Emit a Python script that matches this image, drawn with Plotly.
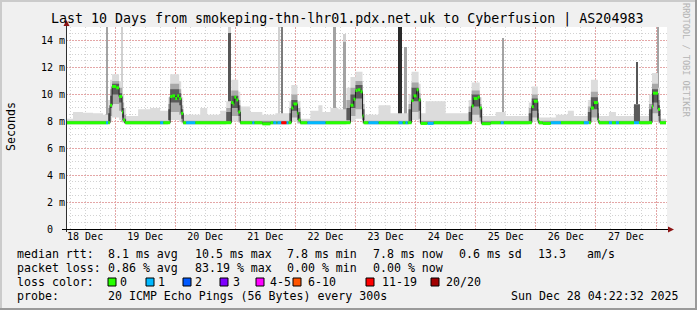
import numpy as np
import pandas as pd
import plotly.graph_objects as go

# ---------------- data ----------------
START = pd.Timestamp("2025-12-18 04:22:32")
END = pd.Timestamp("2025-12-28 04:22:32")
DATA_END_H = 239.6          # hours after START where data stops

# median rtt, step series: hours after START -> ms
MED_H = [0.0,
         17.6, 18.4, 20.0, 21.2, 22.4, 22.8, 23.6,
         41.6, 42.4, 43.6, 44.4, 45.2, 46.0, 46.8,
         66.0, 66.8, 67.2, 68.0, 68.8, 69.6, 78.4, 81.6,
         90.0, 90.8, 92.4, 92.8, 93.6,
         113.6, 114.8, 115.6, 116.4, 117.6, 118.4, 118.8,
         138.0, 138.8, 140.0, 140.8, 141.6, 146.8,
         162.0, 162.8, 164.4, 165.2, 166.0, 169.6,
         186.0, 186.8, 188.4, 188.8, 190.4, 193.6,
         209.6, 210.8, 212.4, 212.8,
         234.0, 234.4, 236.4, 237.2]
MED_MS = [7.9,
          9.2, 10.6, 10.5, 9.85, 8.7, 8.1, 7.9,
          9.85, 9.9, 9.7, 9.9, 9.7, 8.6, 7.9,
          9.4, 9.3, 9.8, 9.6, 8.7, 7.9, 7.82, 7.9,
          9.0, 9.3, 8.6, 8.1, 7.9,
          9.2, 9.65, 10.3, 10.35, 10.2, 8.4, 7.9,
          9.55, 9.9, 10.35, 9.6, 7.85, 7.9,
          9.15, 9.7, 9.8, 9.0, 7.83, 7.9,
          9.1, 9.5, 8.1, 7.9, 7.85, 7.9,
          9.0, 9.4, 8.1, 7.9,
          9.1, 10.1, 8.9, 7.9]

# packet loss (pings lost out of 20), step series
LOSS_H = [0.0, 16.0, 16.8, 37.6, 38.8, 48.0, 51.6, 74.4, 75.2, 82.8, 84.0, 84.4,
          86.0, 88.0, 88.8, 96.4, 103.6, 120.8, 124.8, 132.8, 134.4, 135.6, 136.4,
          144.4, 146.8, 173.6, 174.8, 193.6, 197.6, 206.8, 208.8, 216.8, 218.0,
          219.6, 220.8, 226.8, 228.8]
LOSS_N = [0, 1, 0, 1, 0, 1, 0, 1, 0, 1, 0, 1,
          12, 1, 0, 1, 0, 1, 0, 1, 0, 1, 0,
          1, 0, 1, 0, 1, 0, 1, 0, 1, 0,
          1, 0, 1, 0]

# smoke (ping spread), step series
SMOKE_H = [0.0, 2.8, 6.8, 10.8, 14.8,
           16.8, 17.6, 18.4, 21.2, 22.4, 23.2,
           24.0, 28.8, 33.6, 37.6,
           40.8, 41.6, 45.2, 46.0,
           46.8, 53.6, 56.4, 61.6,
           64.0, 66.0, 68.8,
           69.6, 73.6, 78.4, 83.6,
           89.2, 90.0, 92.4,
           93.6, 97.6, 100.8, 102.4, 105.6, 108.8,
           112.0, 113.6, 115.6, 118.4,
           119.2, 124.8, 129.6,
           136.8, 138.0, 140.8,
           141.6, 143.6, 151.6,
           160.8, 162.0, 165.2,
           166.0, 171.6, 175.6,
           184.8, 186.0, 188.4,
           188.8, 195.6, 200.4, 202.8,
           208.4, 209.6, 212.4,
           212.8, 216.8, 219.6,
           226.8, 229.2,
           232.8, 234.0, 236.4,
           237.2]
SMOKE_MAX = [8.2, 8.7, 8.65, 8.6, 8.5,
             9.6, 11.1, 11.5, 11.0, 10.0, 9.0,
             8.4, 8.9, 9.0, 8.8,
             9.8, 11.5, 11.0, 9.8,
             8.5, 9.0, 8.5, 8.8,
             9.5, 11.1, 10.2,
             9.1, 8.7, 8.5, 8.6,
             9.5, 10.7, 9.5,
             8.2, 8.8, 9.2, 8.7, 9.0, 8.9,
             10.5, 11.3, 11.7, 10.0,
             8.5, 9.2, 8.6,
             10.0, 11.7, 10.8,
             8.6, 9.5, 8.6,
             9.6, 10.9, 9.8,
             8.4, 8.7, 8.4,
             9.4, 10.6, 9.4,
             8.3, 8.5, 8.8, 8.4,
             9.6, 11.1, 9.5,
             8.4, 8.7, 8.4,
             9.3, 8.4,
             10.0, 11.6, 10.5,
             8.2]
SMOKE_Q3 = [8.05, 8.05, 8.05, 8.05, 8.05,
            9.0, 10.4, 11.0, 10.5, 9.4, 8.5,
            8.05, 8.05, 8.05, 8.05,
            9.3, 10.8, 10.4, 9.2,
            8.05, 8.05, 8.05, 8.05,
            9.0, 10.3, 9.6,
            8.05, 8.05, 8.05, 8.05,
            9.0, 10.0, 9.0,
            8.05, 8.05, 8.05, 8.05, 8.05, 8.05,
            9.6, 10.5, 11.0, 9.3,
            8.05, 8.05, 8.05,
            9.3, 10.9, 10.1,
            8.05, 8.05, 8.05,
            9.1, 10.3, 9.3,
            8.05, 8.05, 8.05,
            9.0, 10.0, 8.9,
            8.05, 8.05, 8.05, 8.05,
            9.1, 10.2, 9.0,
            8.05, 8.05, 8.05,
            9.3, 8.05,
            9.3, 10.8, 9.6,
            8.05]
SMOKE_CHI = [7.98, 7.98, 7.98, 7.98, 7.98,
             8.6, 9.9, 10.8, 10.1, 9.0, 8.2,
             7.98, 7.98, 7.98, 7.98,
             8.9, 10.4, 10.1, 8.9,
             7.98, 7.98, 7.98, 7.98,
             8.7, 9.9, 9.2,
             7.98, 7.98, 7.98, 7.98,
             8.6, 9.6, 8.7,
             7.98, 7.98, 7.98, 7.98, 7.98, 7.98,
             9.0, 10.0, 10.7, 8.9,
             7.98, 7.98, 7.98,
             8.9, 10.5, 9.7,
             7.98, 7.98, 7.98,
             8.7, 10.0, 9.0,
             7.98, 7.98, 7.98,
             8.6, 9.7, 8.6,
             7.98, 7.98, 7.98, 7.98,
             8.7, 9.8, 8.6,
             7.98, 7.98, 7.98,
             9.25, 7.98,
             8.9, 10.4, 9.2,
             7.98]
SMOKE_CLO = [7.85, 7.85, 7.85, 7.85, 7.85,
             8.0, 9.0, 10.0, 9.4, 8.3, 7.9,
             7.85, 7.85, 7.85, 7.85,
             8.1, 9.4, 9.2, 8.2,
             7.85, 7.85, 7.85, 7.85,
             8.0, 9.0, 8.4,
             7.85, 7.85, 7.85, 7.85,
             8.0, 8.8, 8.1,
             7.85, 7.85, 7.85, 7.85, 7.85, 7.85,
             8.1, 9.0, 9.7, 8.1,
             7.85, 7.85, 7.85,
             8.0, 9.5, 8.8,
             7.85, 7.85, 7.85,
             8.0, 9.1, 8.3,
             7.85, 7.85, 7.85,
             8.0, 8.8, 8.0,
             7.85, 7.85, 7.85, 7.85,
             8.0, 8.9, 8.0,
             7.85, 7.85, 7.85,
             7.9, 7.85,
             8.0, 9.4, 8.4,
             7.85]
SMOKE_Q1 = [7.8, 7.8, 7.8, 7.8, 7.8,
            7.9, 8.4, 9.3, 8.8, 8.0, 7.85,
            7.8, 7.8, 7.8, 7.8,
            7.95, 8.7, 8.5, 7.95,
            7.8, 7.8, 7.8, 7.8,
            7.9, 8.4, 8.0,
            7.8, 7.8, 7.8, 7.8,
            7.9, 8.3, 7.9,
            7.8, 7.8, 7.8, 7.8, 7.8, 7.8,
            7.95, 8.4, 8.9, 7.9,
            7.8, 7.8, 7.8,
            7.9, 8.7, 8.2,
            7.8, 7.8, 7.8,
            7.9, 8.5, 8.0,
            7.8, 7.8, 7.8,
            7.9, 8.3, 7.9,
            7.8, 7.8, 7.8, 7.8,
            7.9, 8.3, 7.9,
            7.8, 7.8, 7.8,
            7.85, 7.8,
            7.9, 8.6, 8.0,
            7.8]
SMOKE_MIN = [7.75, 7.75, 7.75, 7.75, 7.75,
             7.8, 8.0, 8.3, 8.1, 7.9, 7.8,
             7.75, 7.75, 7.75, 7.75,
             7.85, 8.1, 8.0, 7.85,
             7.75, 7.75, 7.75, 7.75,
             7.8, 8.0, 7.9,
             7.75, 7.75, 7.75, 7.75,
             7.8, 8.0, 7.8,
             7.75, 7.75, 7.75, 7.75, 7.75, 7.75,
             7.85, 8.0, 8.2, 7.8,
             7.75, 7.75, 7.75,
             7.8, 8.1, 7.9,
             7.75, 7.75, 7.75,
             7.8, 8.0, 7.85,
             7.75, 7.75, 7.75,
             7.8, 8.0, 7.8,
             7.75, 7.75, 7.75, 7.75,
             7.8, 8.0, 7.8,
             7.75, 7.75, 7.75,
             7.8, 7.75,
             7.8, 8.0, 7.85,
             7.75]

# isolated slow pings (tall smoke spikes)
SPIKE_H = [16.4, 22.2, 65.4, 65.4, 85.2, 86.2, 107.4, 111.4, 111.4, 133.4, 135.4, 174.4, 228.2, 236.4]
SPIKE_SPAN_H = [0.8, 0.8, 1.2, 1.2, 0.8, 0.8, 1.2, 1.2, 1.2, 1.6, 1.2, 0.8, 0.8, 0.8]
SPIKE_LOW = [8.0, 8.0, 8.0, 8.0, 8.0, 8.0, 8.0, 8.0, 8.0, 8.0, 8.0, 8.0, 8.0, 8.0]
SPIKE_HIGH = [15.1, 15.1, 15.1, 14.6, 15.1, 15.1, 15.1, 14.5, 13.9, 15.1, 13.5, 14.2, 12.4, 15.1]
SPIKE_N = [2, 1, 1, 4, 1, 3, 2, 1, 2, 6, 2, 2, 4, 2]

DAY_LABELS = ["18 Dec", "19 Dec", "20 Dec", "21 Dec", "22 Dec",
              "23 Dec", "24 Dec", "25 Dec", "26 Dec", "27 Dec"]
Y_TICKS = [0, 2, 4, 6, 8, 10, 12, 14]
Y_TICK_TEXT = ["0\u00a0\u00a0", "2 m", "4 m", "6 m", "8 m", "10 m", "12 m", "14 m"]

TITLE = "Last 10 Days from smokeping-thn-lhr01.pdx.net.uk to Cyberfusion | AS204983"
RTT_STATS = ["8.1 ms avg", "10.5 ms max", "7.8 ms min", "7.8 ms now", "0.6 ms sd"]
LOSS_STATS = ["0.86 % avg", "83.19 % max", "0.00 % min", "0.00 % now"]
JITTER_VAL, JITTER_UNIT = "13.3", "am/s"
LOSS_LABELS = ["0", "1", "2", "3", "4-5", "6-10", "11-19", "20/20"]
PROBE = "20 ICMP Echo Pings (56 Bytes) every 300s"
STAMP = "Sun Dec 28 04:22:32 2025"

# ---------------- styling ----------------
MONO = "DejaVu Sans Mono"
LOSS_COLORS = ["#26ff00", "#00b8ff", "#0059ff", "#7e00ff",
               "#ff00ff", "#ff5500", "#ff0000", "#a10000"]
SPIKE_GRAY = {1: "#d0d0d0", 2: "#a3a3a3", 3: "#7c7c7c", 4: "#565656", 6: "#2a2a2a"}
MAJOR = "#e4a6a6"
MINOR = "#d2d2d2"

W, H = 697, 310
L, R, T, B = 66, 30, 27, 81
PW, PH = W - L - R, H - T - B


def PX(x):
    return (x - L) / PW


def PY(y):
    return (H - B - y) / PH


def hdt(h):
    return START + pd.Timedelta(hours=float(h))


def loss_color(n):
    if n <= 3:
        return LOSS_COLORS[n]
    if n <= 5:
        return LOSS_COLORS[4]
    if n <= 10:
        return LOSS_COLORS[5]
    if n <= 19:
        return LOSS_COLORS[6]
    return LOSS_COLORS[7]


def step_val(hs, vs, h):
    i = int(np.searchsorted(np.asarray(hs), h, side="right")) - 1
    return vs[max(i, 0)]


fig = go.Figure()

# smoke bands
sx = [hdt(h) for h in SMOKE_H] + [hdt(DATA_END_H)]


def ext(a):
    return list(a) + [a[-1]]


for lo, hi, col in [(SMOKE_MIN, SMOKE_MAX, "#dcdcdc"),
                    (SMOKE_Q1, SMOKE_Q3, "#a8a8a8"),
                    (SMOKE_CLO, SMOKE_CHI, "#5a5a5a")]:
    fig.add_trace(go.Scatter(x=sx, y=ext(lo), mode="lines",
                             line=dict(width=0, shape="hv"), hoverinfo="skip"))
    fig.add_trace(go.Scatter(x=sx, y=ext(hi), mode="lines",
                             line=dict(width=0, shape="hv"), fill="tonexty",
                             fillcolor=col, hoverinfo="skip"))

# spikes
fig.add_trace(go.Bar(
    x=[hdt(h) for h in SPIKE_H],
    y=[hi - lo for hi, lo in zip(SPIKE_HIGH, SPIKE_LOW)],
    base=SPIKE_LOW,
    width=[s * 3600 * 1000 for s in SPIKE_SPAN_H],
    marker=dict(color=[SPIKE_GRAY[n] for n in SPIKE_N], line=dict(width=0)),
    hoverinfo="skip"))

# median line (dark) with vertical steps -- on the labelled overlay x axis
fig.add_trace(go.Scatter(x=[hdt(h) for h in MED_H] + [hdt(DATA_END_H)],
                         y=list(MED_MS) + [MED_MS[-1]], mode="lines",
                         xaxis="x2", yaxis="y",
                         line=dict(color="#202020", width=1, shape="hv"),
                         hoverinfo="skip"))

# loss-coloured median bands
bps = sorted(set(MED_H) | set(LOSS_H))
ends = bps[1:] + [DATA_END_H]
segs = {}
for a, b in zip(bps, ends):
    m = step_val(MED_H, MED_MS, a)
    c = loss_color(step_val(LOSS_H, LOSS_N, a))
    xs, ys = segs.setdefault(c, ([], []))
    xs += [hdt(a), hdt(b), None]
    ys += [m, m, None]
for c, (xs, ys) in segs.items():
    fig.add_trace(go.Scatter(x=xs, y=ys, mode="lines", xaxis="x2", yaxis="y",
                             line=dict(color=c, width=3), hoverinfo="skip"))

tick_mid = [START.normalize() + pd.Timedelta(days=d) for d in range(1, 11)]
tick_noon = [START.normalize() + pd.Timedelta(days=d, hours=12) for d in range(10)]

fig.update_layout(
    width=W, height=H, margin=dict(l=L, r=R, t=T, b=B, pad=0),
    paper_bgcolor="#f0f0f0", plot_bgcolor="#ffffff", showlegend=False,
    barmode="overlay", bargap=0,
    xaxis=dict(type="date", range=[START, END], tickmode="array",
               tickvals=tick_mid, ticktext=[""] * len(tick_mid),
               showgrid=True, gridcolor=MAJOR, gridwidth=1, griddash="2px,1px",
               minor=dict(dtick=6 * 3600 * 1000, tick0="2025-12-18 00:00:00",
                          showgrid=True, gridcolor=MINOR, gridwidth=1,
                          griddash="1px,2px"),
               zeroline=False, showline=False, ticks=""),
    xaxis2=dict(type="date", overlaying="x", anchor="y", side="bottom",
                range=[START, END], tickmode="array", tickvals=tick_noon,
                ticktext=DAY_LABELS, showgrid=False, zeroline=False,
                showline=False, ticks="",
                tickfont=dict(family=MONO, size=10, color="#000000")),
    yaxis=dict(range=[0, 15.02], tickmode="array", tickvals=Y_TICKS,
               ticktext=Y_TICK_TEXT, showgrid=True, gridcolor=MAJOR,
               gridwidth=1, griddash="2px,1px",
               minor=dict(dtick=0.5, tick0=0, showgrid=True, gridcolor=MINOR,
                          gridwidth=1, griddash="1px,2px"),
               zeroline=False, showline=False, ticks="",
               tickfont=dict(family=MONO, size=10, color="#000000")),
)

shapes = []
# frame
shapes.append(dict(type="line", xref="paper", yref="paper", x0=PX(0), x1=PX(W), y0=PY(1), y1=PY(1),
                   line=dict(color="#cbcbcb", width=2)))
shapes.append(dict(type="line", xref="paper", yref="paper", x0=PX(1), x1=PX(1), y0=PY(0), y1=PY(H),
                   line=dict(color="#cbcbcb", width=2)))
shapes.append(dict(type="line", xref="paper", yref="paper", x0=PX(0), x1=PX(W), y0=PY(H - 1), y1=PY(H - 1),
                   line=dict(color="#9a9a9a", width=2)))
shapes.append(dict(type="line", xref="paper", yref="paper", x0=PX(W - 1), x1=PX(W - 1), y0=PY(0), y1=PY(H),
                   line=dict(color="#9a9a9a", width=2)))
# axes
shapes.append(dict(type="line", xref="paper", yref="paper", x0=PX(66.5), x1=PX(66.5),
                   y0=PY(232), y1=PY(25), line=dict(color="#303030", width=1)))
shapes.append(dict(type="line", xref="paper", yref="paper", x0=PX(62), x1=PX(669),
                   y0=PY(229.5), y1=PY(229.5), line=dict(color="#000000", width=1)))
shapes.append(dict(type="path", xref="paper", yref="paper",
                   path=f"M {PX(63.5)},{PY(26)} L {PX(69.5)},{PY(26)} L {PX(66.5)},{PY(20)} Z",
                   fillcolor="#8c1414", line=dict(width=0)))
shapes.append(dict(type="path", xref="paper", yref="paper",
                   path=f"M {PX(668)},{PY(226.5)} L {PX(668)},{PY(232.5)} L {PX(674)},{PY(229.5)} Z",
                   fillcolor="#8c1414", line=dict(width=0)))
# loss colour swatches
SW_X = [108, 146, 183, 220, 256, 293, 366, 431]
for sx0, col in zip(SW_X, LOSS_COLORS):
    shapes.append(dict(type="rect", xref="paper", yref="paper",
                       x0=PX(sx0), x1=PX(sx0 + 8), y0=PY(278), y1=PY(286),
                       fillcolor=col, line=dict(color="#000000", width=1)))
fig.update_layout(shapes=shapes)

ann = []


def text(x, y, s, size=11.6, anchor="left", color="#000000", angle=0):
    ann.append(dict(x=PX(x), y=PY(y), xref="paper", yref="paper", text=s,
                    showarrow=False, xanchor=anchor, yanchor="middle",
                    textangle=angle, borderpad=0,
                    font=dict(family=MONO, size=size, color=color)))


text(347.2, 19, TITLE, size=13.3, anchor="center")
text(11, 127, "Seconds", size=11.6, anchor="center", angle=-90)
text(686, 60, "RRDTOOL / TOBI OETIKER", size=8.6, anchor="center", color="#b4b4b4", angle=90)

ROW = [254.3, 268.3, 282.3, 296.3]
text(16, ROW[0], "median rtt:")
for x, s in zip([107, 194, 286, 372, 458], RTT_STATS):
    text(x, ROW[0], s)
text(537, ROW[0], JITTER_VAL)
text(586, ROW[0], JITTER_UNIT)
text(16, ROW[1], "packet loss:")
for x, s in zip([107, 194, 286, 372], LOSS_STATS):
    text(x, ROW[1], s)
text(16, ROW[2], "loss color:")
for x, s in zip([119, 157, 194, 232, 269, 307, 381, 445], LOSS_LABELS):
    text(x, ROW[2], s)
text(16, ROW[3], "probe:")
text(107, ROW[3], PROBE)
text(680, ROW[3], STAMP, anchor="right")
fig.update_layout(annotations=ann)

fig.write_html("out.html")
